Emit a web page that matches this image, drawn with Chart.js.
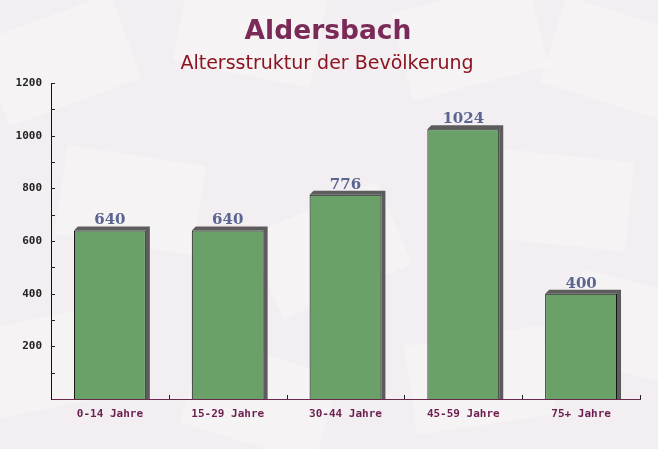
<!DOCTYPE html>
<html>
<head>
<meta charset="utf-8">
<script src="https://cdn.jsdelivr.net/npm/chart.js@4.4.0/dist/chart.umd.min.js"></script>
<style>
  html, body { margin: 0; padding: 0; background: #f2eef1; }
  #wrap { width: 658px; height: 449px; position: relative; }
</style>
</head>
<body>
<div id="wrap"><canvas id="chart"></canvas></div>
<script>
const categories = ['0-14 Jahre', '15-29 Jahre', '30-44 Jahre', '45-59 Jahre', '75+ Jahre'];
const values = [640, 640, 776, 1024, 400];
const yTicks = [0, 200, 400, 600, 800, 1000, 1200];

const titleText = 'Aldersbach';
const subtitleText = 'Altersstruktur der Bevölkerung';

// background with some faint tilted "letters"
const backgroundPlugin = {
    id: 'bg',
    beforeDraw(chart) {
        const ctx = chart.ctx;
        ctx.save();
        ctx.fillStyle = '#f2eef1';
        ctx.fillRect(0, 0, chart.width, chart.height);
        const papers = [
            [60, 60, -0.35], [250, 30, 0.2], [470, 40, -0.25], [620, 60, 0.3],
            [130, 200, 0.15], [330, 250, -0.4], [560, 200, 0.1],
            [60, 360, -0.2], [260, 400, 0.3], [480, 380, -0.15], [640, 330, 0.25]
        ];
        ctx.fillStyle = 'rgba(255,255,255,0.3)';
        for (const [x, y, a] of papers) {
            ctx.save();
            ctx.translate(x, y);
            ctx.rotate(a);
            ctx.fillRect(-70, -45, 140, 90);
            ctx.restore();
        }
        ctx.restore();
    }
};

const decorPlugin = {
    id: 'decor',
    beforeDatasetsDraw(chart) {
        const ctx = chart.ctx;
        const meta = chart.getDatasetMeta(0);
        ctx.save();
        ctx.fillStyle = 'rgba(75,75,75,0.9)';
        for (const bar of meta.data) {
            const left = bar.x - bar.width / 2;
            const right = bar.x + bar.width / 2;
            ctx.beginPath();
            ctx.moveTo(left, bar.y);
            ctx.lineTo(left + 4, bar.y - 4);
            ctx.lineTo(right + 4, bar.y - 4);
            ctx.lineTo(right + 4, bar.base);
            ctx.lineTo(right, bar.base);
            ctx.lineTo(right, bar.y);
            ctx.closePath();
            ctx.fill();
        }
        ctx.restore();
    },
    afterDatasetsDraw(chart) {
        const ctx = chart.ctx;
        const meta = chart.getDatasetMeta(0);
        const area = chart.chartArea;
        ctx.save();
        ctx.font = 'bold 15px "DejaVu Serif"';
        ctx.fillStyle = '#5a6590';
        ctx.textAlign = 'center';
        ctx.textBaseline = 'alphabetic';
        meta.data.forEach((bar, i) => {
            ctx.fillText(String(values[i]), bar.x, bar.y - 6);
        });
        // inward ticks on both axes
        ctx.strokeStyle = '#222';
        ctx.lineWidth = 1;
        const xs = chart.scales.x;
        for (let i = 1; i <= categories.length; i++) {
            const px = Math.round(xs.left + (xs.right - xs.left) * i / categories.length) + 0.5;
            ctx.beginPath();
            ctx.moveTo(px, area.bottom);
            ctx.lineTo(px, area.bottom - 4);
            ctx.stroke();
        }
        const ys = chart.scales.y;
        for (const t of ys.ticks) {
            if (t.value === 0) continue;
            const py = Math.round(ys.getPixelForValue(t.value)) + 0.5;
            ctx.beginPath();
            ctx.moveTo(area.left, py);
            ctx.lineTo(area.left + 4, py);
            ctx.stroke();
        }
        ctx.restore();
    },
    afterDraw(chart) {
        const ctx = chart.ctx;
        ctx.save();
        ctx.textAlign = 'center';
        ctx.textBaseline = 'alphabetic';
        ctx.font = 'bold 26.5px "DejaVu Sans"';
        ctx.fillStyle = '#7b2a58';
        ctx.fillText(titleText, 328, 39);
        ctx.font = '19px "DejaVu Sans"';
        ctx.fillStyle = '#8b1420';
        ctx.fillText(subtitleText, 327, 69);
        ctx.restore();
    }
};

new Chart(document.getElementById('chart'), {
    type: 'bar',
    data: {
        labels: categories,
        datasets: [{
            data: values,
            backgroundColor: 'rgba(90,152,90,0.9)',
            borderColor: '#111',
            borderWidth: 1,
            borderSkipped: 'bottom',
            categoryPercentage: 1,
            barPercentage: 0.61
        }]
    },
    options: {
        responsive: true,
        maintainAspectRatio: false,
        animation: false,
        layout: { padding: { left: 0, right: 18, top: 83, bottom: 0 } },
        plugins: {
            legend: { display: false },
            tooltip: { enabled: false }
        },
        scales: {
            x: {
                grid: { display: false },
                border: { color: '#6b2a4c', width: 1 },
                ticks: {
                    color: '#6b1f4f',
                    font: { family: '"DejaVu Sans Mono"', size: 11, weight: 'bold' },
                    padding: 1,
                    maxRotation: 0
                },
                afterFit(scale) { scale.height = 50; }
            },
            y: {
                min: 0,
                max: 1200,
                afterBuildTicks(scale) {
                    const t = [];
                    for (let v = 0; v <= 1200; v += 100) t.push({ value: v });
                    scale.ticks = t;
                },
                grid: { display: false },
                border: { color: '#111', width: 1 },
                ticks: {
                    color: '#222',
                    font: { family: '"DejaVu Sans Mono"', size: 11, weight: 'bold' },
                    padding: 1,
                    callback: v => (yTicks.includes(v) && v !== 0) ? String(v) : ''
                },
                afterFit(scale) { scale.width = 51; }
            }
        }
    },
    plugins: [backgroundPlugin, decorPlugin]
});
</script>
</body>
</html>
